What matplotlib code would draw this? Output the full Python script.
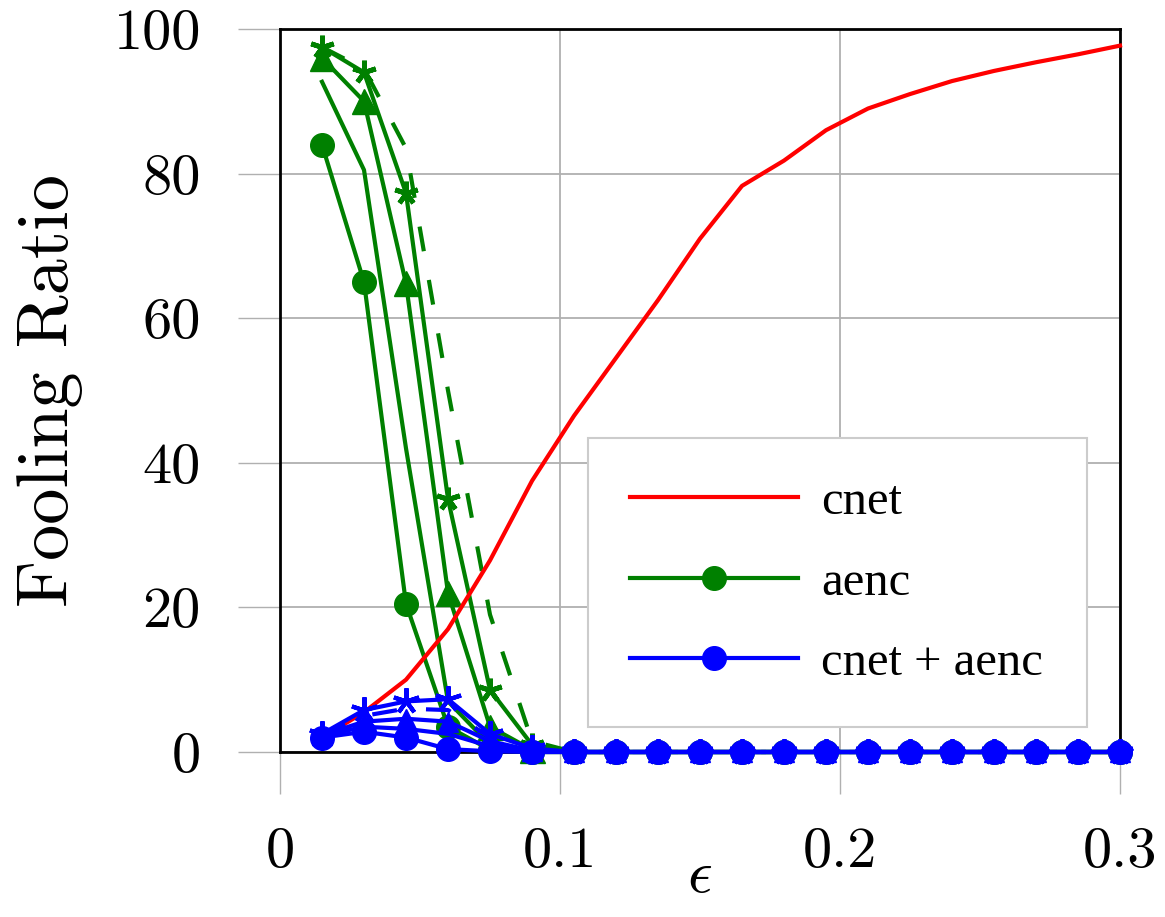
import matplotlib.pyplot as plt

plt.rcParams['font.family'] = 'serif'
plt.rcParams['font.serif'] = ['Liberation Serif', 'DejaVu Serif']
plt.rcParams['mathtext.fontset'] = 'cm'

# epsilon values
eps = [0.015, 0.03, 0.045, 0.06, 0.075, 0.09, 0.105, 0.12, 0.135, 0.15,
       0.165, 0.18, 0.195, 0.21, 0.225, 0.24, 0.255, 0.27, 0.285, 0.3]

# cnet only
cnet = [2.0, 5.5, 10.0, 17.0, 26.5, 37.5, 46.5, 54.5, 62.5, 71.0,
        78.3, 81.8, 86.0, 89.0, 91.0, 92.8, 94.2, 95.4, 96.5, 97.7]

# aenc variants (green)
aenc_circle = [84.0, 65.0, 20.5, 3.5, 0.3, 0.0, 0, 0, 0, 0, 0, 0, 0, 0, 0, 0, 0, 0, 0, 0]
aenc_plain = [92.7, 80.5, 42.0, 7.0, 1.0, 0.0, 0, 0, 0, 0, 0, 0, 0, 0, 0, 0, 0, 0, 0, 0]
aenc_tri = [96.0, 90.0, 64.8, 22.0, 3.5, 0.3, 0, 0, 0, 0, 0, 0, 0, 0, 0, 0, 0, 0, 0, 0]
aenc_star = [97.5, 94.0, 77.3, 35.0, 8.6, 1.0, 0, 0, 0, 0, 0, 0, 0, 0, 0, 0, 0, 0, 0, 0]
aenc_dash = [97.5, 94.5, 83.5, 50.0, 19.0, 1.5, 0, 0, 0, 0, 0, 0, 0, 0, 0, 0, 0, 0, 0, 0]

# cnet + aenc variants (blue)
both_star = [2.5, 5.8, 7.0, 7.3, 2.5, 0.5, 0, 0, 0, 0, 0, 0, 0, 0, 0, 0, 0, 0, 0, 0]
both_dash = [2.5, 5.0, 6.0, 5.8, 2.0, 0.3, 0, 0, 0, 0, 0, 0, 0, 0, 0, 0, 0, 0, 0, 0]
both_tri = [2.3, 4.2, 4.6, 4.2, 1.5, 0.2, 0, 0, 0, 0, 0, 0, 0, 0, 0, 0, 0, 0, 0, 0]
both_plain = [2.2, 3.5, 3.2, 2.5, 0.8, 0.0, 0, 0, 0, 0, 0, 0, 0, 0, 0, 0, 0, 0, 0, 0]
both_circle = [2.0, 2.8, 2.0, 0.4, 0.1, 0.0, 0, 0, 0, 0, 0, 0, 0, 0, 0, 0, 0, 0, 0, 0]

xticks = [0, 0.1, 0.2, 0.3]
xtick_labels = ['0', '0.1', '0.2', '0.3']
yticks = [0, 20, 40, 60, 80, 100]
ytick_labels = ['0', '20', '40', '60', '80', '100']

green = '#008000'
blue = '#0000ff'
red = '#ff0000'
lw = 3
ms = 17

fig = plt.figure(figsize=(11.65, 9.17), dpi=100)
ax = fig.add_axes([280 / 1165, 165 / 917, 840 / 1165, 723 / 917])

kw = dict(clip_on=False, zorder=3, lw=lw)

# green curves
ax.plot(eps, aenc_plain, color=green, **kw)
ax.plot(eps, aenc_dash, color=green, ls=(0, (6, 7)), **kw)
ax.plot(eps, aenc_star, color=green, marker=(5, 2, 0), ms=ms, mew=3.5,
        markevery=slice(0, 6), **kw)
ax.plot(eps, aenc_tri, color=green, marker='^', ms=ms + 1, markevery=slice(0, 6), **kw)
l_aenc, = ax.plot(eps, aenc_circle, color=green, marker='o', ms=ms, label='aenc', **kw)

# red curve
l_cnet, = ax.plot(eps, cnet, color=red, label='cnet', **kw)

# blue curves
ax.plot(eps, both_plain, color=blue, **kw)
ax.plot(eps, both_dash, color=blue, ls=(0, (6, 7)), **kw)
ax.plot(eps, both_tri, color=blue, marker='^', ms=ms - 2, **kw)
ax.plot(eps, both_star, color=blue, marker=(5, 2, 0), ms=ms + 2, mew=3, **kw)
l_both, = ax.plot(eps, both_circle, color=blue, marker='o', ms=ms, label='cnet + aenc', **kw)

ax.set_xlim(0, 0.3)
ax.set_ylim(0, 100)
ax.set_xticks(xticks, labels=xtick_labels)
ax.set_yticks(yticks, labels=ytick_labels)
ax.grid(True, color='#b0b0b0', linewidth=1.3)
ax.set_axisbelow(True)
ax.tick_params(direction='out', length=30, width=1, color='#b0b0b0',
               labelsize=42, labelfontfamily='cmr10')
ax.tick_params(axis='y', pad=27)
ax.tick_params(axis='x', pad=24)
for s in ax.spines.values():
    s.set_linewidth(2)
    s.set_color('black')

ax.set_ylabel('Fooling Ratio', fontsize=52, fontfamily='cmr10')
ax.yaxis.set_label_coords(-0.235, 0.5)
ax.set_xlabel(r'$\epsilon$', fontsize=44)
ax.xaxis.set_label_coords(0.5, -0.135)

leg = ax.legend(handles=[l_cnet, l_aenc, l_both], loc='lower left',
                bbox_to_anchor=(0.367, 0.0346, 0.594, 0.39), mode='expand',
                fontsize=35, handlelength=3.46, handletextpad=0.47,
                labelspacing=0.75, borderpad=0.86, borderaxespad=0,
                fancybox=False, framealpha=1, edgecolor='#cccccc')
leg.get_frame().set_linewidth(1.5)

fig.savefig('out.png', dpi=100)
